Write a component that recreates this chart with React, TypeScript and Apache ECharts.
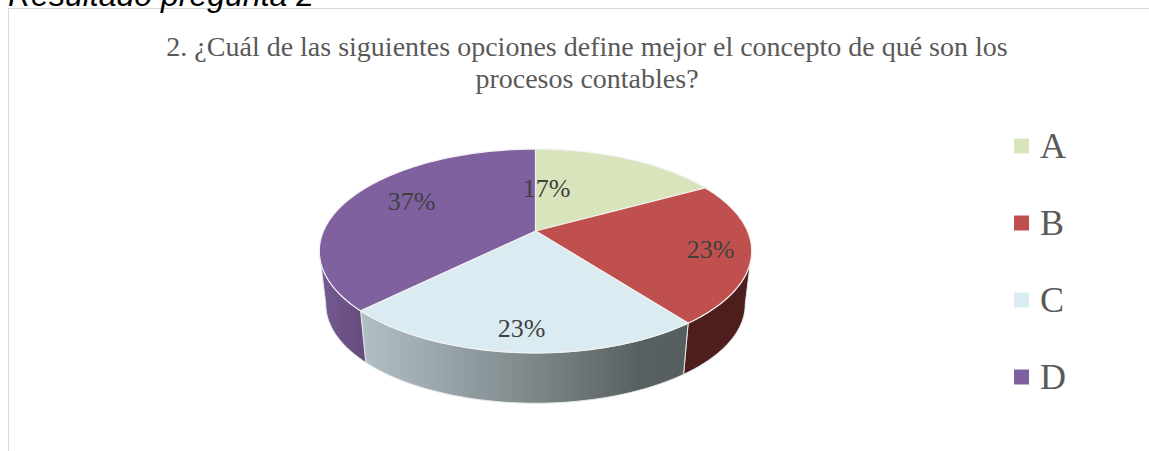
import React, { useEffect, useRef } from "react";
import * as echarts from "echarts";

const CATEGORIES = ["A", "B", "C", "D"];
const VALUES = [17, 22.6, 23, 37.4];
const COLORS = ["#d7e4bc", "#c0504d", "#daebf2", "#8061a0"];
const TITLE = "2. ¿Cuál de las siguientes opciones define mejor el concepto de qué son los\nprocesos contables?";
const HEADING = "Resultado pregunta 2";

// Perspective disc projection (layout constants)
const APEX_X = 535.5, APEX_Y = 231, A = 212, B = 98, K = 0.196;
const LOW_DY = 54, LOW_S = 0.97;
const FRONT_FROM = 101.3, FRONT_TO = 258.7;
const LABEL_OFFSET = [[11, -43], [175, 18], [-14, 97], [-124, -30]];

function project(deg: number, low = false): number[] {
  const t = (deg * Math.PI) / 180;
  const u = Math.sin(t), v = Math.cos(t);
  const w = 1 + K * v;
  const dx = (A * u) / w, dy = (-B * v) / w;
  return low
    ? [APEX_X + LOW_S * dx, APEX_Y + LOW_DY + LOW_S * dy]
    : [APEX_X + dx, APEX_Y + dy];
}

function arc(from: number, to: number, low = false): number[][] {
  const pts: number[][] = [];
  const n = Math.max(2, Math.ceil(Math.abs(to - from)));
  for (let i = 0; i <= n; i++) pts.push(project(from + ((to - from) * i) / n, low));
  return pts;
}

function sideFill(i: number): any {
  if (i === 2)
    return new echarts.graphic.LinearGradient(0, 0, 1, 0, [
      { offset: 0, color: "#b1c0c6" },
      { offset: 0.5, color: "#808a8d" },
      { offset: 0.85, color: "#596061" },
      { offset: 1, color: "#565e5f" },
    ]);
  if (i === 3)
    return new echarts.graphic.LinearGradient(0, 0, 1, 0, [
      { offset: 0, color: "#745a92" },
      { offset: 1, color: "#654c7c" },
    ]);
  return "#4d1e1c";
}

const makeRender = (i: number) => (_p: any, _api: any) => {
  const total = VALUES.reduce((a, b) => a + b, 0);
  const prior = VALUES.slice(0, i).reduce((a, b) => a + b, 0);
  const start = (prior / total) * 360;
  const end = ((prior + VALUES[i]) / total) * 360;
  const children: any[] = [];
  const s = Math.max(start, FRONT_FROM), e = Math.min(end, FRONT_TO);
  if (e > s) {
    children.push({
      type: "polygon",
      z2: 1,
      shape: { points: [...arc(s, e), ...arc(e, s, true)] },
      style: { fill: sideFill(i), stroke: "#e4e8e8", lineWidth: 1 },
    });
  }
  children.push({
    type: "polygon",
    z2: 2,
    shape: { points: [[APEX_X, APEX_Y], ...arc(start, end)] },
    style: { fill: COLORS[i], stroke: "#f2f2f2", lineWidth: 1.2 },
  });
  children.push({
    type: "text",
    z2: 3,
    x: APEX_X + LABEL_OFFSET[i][0],
    y: APEX_Y + LABEL_OFFSET[i][1],
    style: {
      text: `${Math.round(VALUES[i])}%`,
      fill: "#404040",
      font: '26px "Liberation Serif"',
      align: "center",
      verticalAlign: "middle",
    },
  });
  return { type: "group", children };
};

export default function App() {
  const ref = useRef<HTMLDivElement>(null);
  useEffect(() => {
    const chart = echarts.init(ref.current!, undefined, { renderer: "svg" });
    chart.setOption({
      animation: false,
      backgroundColor: "#ffffff",
      title: {
        text: TITLE,
        left: 582,
        top: 25,
        textAlign: "center",
        textStyle: {
          fontFamily: "Liberation Serif",
          fontSize: 28,
          fontWeight: "normal",
          color: "#595959",
          lineHeight: 32,
        },
      },
      legend: {
        orient: "vertical",
        left: 1009,
        top: 120,
        data: CATEGORIES,
        icon: "rect",
        itemWidth: 15,
        itemHeight: 15,
        itemGap: 35,
        selectedMode: false,
        textStyle: {
          fontFamily: "Liberation Serif",
          fontSize: 36,
          color: "#595959",
          padding: [0, 0, 0, 6],
          lineHeight: 42,
        },
      },
      graphic: [
        { type: "line", silent: true, shape: { x1: 8.5, y1: 8, x2: 8.5, y2: 451 }, style: { stroke: "#d9d9d9", lineWidth: 1 } },
        { type: "line", silent: true, shape: { x1: 8, y1: 8.5, x2: 1149, y2: 8.5 }, style: { stroke: "#d9d9d9", lineWidth: 1 } },
        {
          type: "text",
          x: 8,
          y: -5,
          style: { text: HEADING, fill: "#000000", font: 'italic 32px "Liberation Sans"', verticalAlign: "middle" },
        },
      ],
      series: CATEGORIES.map((name, i) => ({
        type: "custom",
        name,
        coordinateSystem: "none",
        data: [[VALUES[i]]],
        itemStyle: { color: COLORS[i] },
        renderItem: makeRender(i),
        silent: true,
      })),
    });
    return () => chart.dispose();
  }, []);
  return <div ref={ref} style={{ position: "absolute", left: 0, top: 0, width: 1149, height: 451 }} />;
}
